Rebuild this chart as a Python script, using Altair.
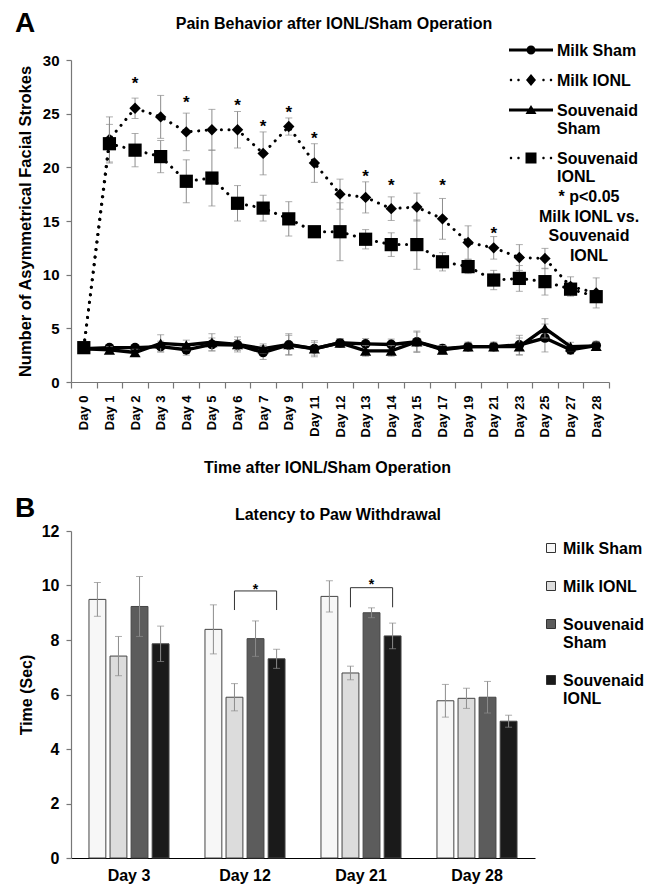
import altair as alt
import pandas as pd

FONT = "Liberation Sans"
GRAY = "#8c8c8c"
AXC = "#777777"

# ---------------- Panel A data ----------------
days = ["Day 0", "Day 1", "Day 2", "Day 3", "Day 4", "Day 5", "Day 6", "Day 7",
        "Day 9", "Day 11", "Day 12", "Day 13", "Day 14", "Day 15", "Day 17",
        "Day 19", "Day 21", "Day 23", "Day 25", "Day 27", "Day 28"]
series = ["Milk Sham", "Milk IONL", "Souvenaid Sham", "Souvenaid IONL"]

milk_sham = [3.1, 3.2, 3.2, 3.3, 3.0, 3.5, 3.45, 2.75, 3.45, 3.1, 3.65, 3.55,
             3.5, 3.75, 3.1, 3.3, 3.3, 3.45, 4.1, 3.0, 3.4]
milk_sham_err = [0.4, 0.3, 0.3, 0.5, 0.5, 0.6, 0.5, 0.65, 0.9, 0.6, 0.4, 0.5,
                 0.5, 1.0, 0.4, 0.4, 0.4, 0.9, 1.3, 0.4, 0.4]
milk_ionl = [3.2, 22.6, 25.5, 24.7, 23.3, 23.5, 23.5, 21.3, 23.8, 20.4, 17.5,
             17.2, 16.15, 16.3, 15.2, 13.0, 12.5, 11.6, 11.5, 8.9, 8.3]
milk_ionl_err = [0.4, 2.1, 0.95, 2.0, 1.75, 1.9, 1.7, 2.0, 0.8, 1.8, 1.4, 1.45,
                 1.1, 1.3, 1.9, 1.55, 1.05, 1.2, 0.95, 0.9, 1.4]
souv_sham = [3.1, 3.0, 2.75, 3.6, 3.45, 3.7, 3.5, 3.1, 3.5, 3.1, 3.65, 2.9,
             2.9, 3.75, 3.0, 3.3, 3.3, 3.3, 5.0, 3.3, 3.35]
souv_sham_err = [0.4, 0.3, 0.3, 0.8, 0.45, 0.8, 0.7, 0.45, 1.0, 0.75, 0.4, 0.5,
                 0.5, 0.9, 0.4, 0.4, 0.4, 0.8, 0.9, 0.4, 0.4]
souv_ionl = [3.2, 22.2, 21.6, 21.0, 18.7, 19.0, 16.65, 16.2, 15.2, 14.0, 14.0,
             13.3, 12.8, 12.8, 11.2, 10.75, 9.5, 9.65, 9.35, 8.65, 7.95]
souv_ionl_err = [0.4, 1.8, 1.55, 1.5, 2.0, 2.6, 1.65, 1.2, 1.6, 0.3, 2.7, 0.9,
                 1.1, 2.3, 0.85, 0.65, 0.9, 1.2, 1.25, 0.5, 0.5]

star_days = ["Day 2", "Day 4", "Day 6", "Day 7", "Day 9", "Day 11", "Day 13",
             "Day 14", "Day 17", "Day 21"]
star_y = [28.0, 26.3, 26.0, 24.0, 25.3, 22.9, 19.4, 18.5, 18.5, 14.1]

title_a = "Pain Behavior after IONL/Sham Operation"
note_lines = ["*  p<0.05", "Milk IONL vs.", "Souvenaid", "IONL"]

# ---------------- Panel B data ----------------
bar_days = ["Day 3", "Day 12", "Day 21", "Day 28"]
b_milk_sham = [9.49, 8.39, 9.6, 5.77]
b_milk_sham_err = [0.62, 0.9, 0.57, 0.6]
b_milk_ionl = [7.41, 5.9, 6.79, 5.86]
b_milk_ionl_err = [0.72, 0.5, 0.25, 0.37]
b_souv_sham = [9.23, 8.05, 9.0, 5.9]
b_souv_sham_err = [1.1, 0.65, 0.18, 0.58]
b_souv_ionl = [7.86, 7.31, 8.15, 5.02]
b_souv_ionl_err = [0.65, 0.35, 0.47, 0.22]

bracket_days = ["Day 12", "Day 21"]
bracket_top = [9.8, 9.92]
bracket_leg = [9.1, 9.2]
bracket_star = [9.94, 10.13]

title_b = "Latency to Paw Withdrawal"

# ---------------- legend symbol paths (unit box, 5 px per unit) ----------------
D = 1.4


def circ(cx, cy, r):
    return (f"M{cx + r},{cy}A{r},{r},0,1,1,{cx - r},{cy}"
            f"A{r},{r},0,1,1,{cx + r},{cy}Z")


solid = f"M-4.4,{D - 0.3}H4.4V{D + 0.3}H-4.4Z"
dots = "".join(circ(x, D, 0.25) for x in (-4.0, -2.5, 2.5, 4.0))
p_circle = solid + circ(0, D, 0.9)
p_diamond = dots + f"M0,{D - 1.2}L1,{D}L0,{D + 1.2}L-1,{D}Z"
p_triangle = solid + f"M0,{D - 1.0}L1.1,{D + 0.8}L-1.1,{D + 0.8}Z"
p_square = dots + f"M-1.1,{D - 1.1}H1.1V{D + 1.1}H-1.1Z"
legend_paths = [p_circle, p_diamond, p_triangle, p_square]

DB = 1.4
p_box = f"M-0.9,{DB - 0.9}H0.9V{DB + 0.9}H-0.9Z"

label_expr = ("indexof(datum.label, 'Souvenaid') == 0 ? "
              "['Souvenaid', substring(datum.label, 10)] : datum.label")


def legend_style(**kw):
    return alt.Legend(orient="none", title=None, symbolOpacity=1,
                      labelBaseline="top", labelExpr=label_expr,
                      labelFontSize=16, labelFontWeight="bold", labelFont=FONT,
                      labelColor="black", labelLimit=200, **kw)


def label_text(text, x, y, size, align="center"):
    return alt.Chart(pd.DataFrame({"t": [text]})).mark_text(
        font=FONT, fontSize=size, fontWeight="bold", align=align,
        baseline="alphabetic", color="black").encode(
        text="t:N", x=alt.value(x), y=alt.value(y))


# ---------------- Panel A chart ----------------
scale_ya = alt.Scale(domain=[0, 30], nice=False)
axis_ya = alt.Axis(values=list(range(0, 31, 5)),
                   title="Number of Asymmetrical Facial Strokes",
                   titlePadding=9, labelPadding=7, tickSize=5, labelFontSize=15,
                   titleFontSize=16.5)
x_a = alt.X("day:N", sort=days,
            scale=alt.Scale(paddingInner=0, paddingOuter=0),
            axis=alt.Axis(title="Time after IONL/Sham Operation", labelAngle=-90,
                          tickBand="extent", tickSize=6, labelPadding=7,
                          labelFontSize=13, titlePadding=23, titleX=256))


def ya(field):
    return alt.Y(field, scale=scale_ya, axis=axis_ya)


marker = {
    "Milk Sham": ("circle", 95),
    "Milk IONL": ("diamond", 130),
    "Souvenaid Sham": ("triangle-up", 125),
    "Souvenaid IONL": ("square", 175),
}

layers_a = []
for name, vals, errs in [("Milk Sham", milk_sham, milk_sham_err),
                         ("Milk IONL", milk_ionl, milk_ionl_err),
                         ("Souvenaid Sham", souv_sham, souv_sham_err),
                         ("Souvenaid IONL", souv_ionl, souv_ionl_err)]:
    d = pd.DataFrame({"day": days, "series": name, "value": vals,
                      "lo": [v - e for v, e in zip(vals, errs)],
                      "hi": [v + e for v, e in zip(vals, errs)]})
    base = alt.Chart(d)
    layers_a.append(base.mark_rule(color=GRAY, strokeWidth=1).encode(
        x=x_a, y=ya("lo:Q"), y2="hi:Q"))
    for f in ("lo:Q", "hi:Q"):
        layers_a.append(base.mark_tick(color=GRAY, thickness=1, size=7).encode(
            x=x_a, y=ya(f)))
    if "Sham" in name:
        ln = base.mark_line(color="black", strokeWidth=3.4)
    else:
        ln = base.mark_line(color="black", strokeWidth=3, strokeDash=[0.1, 7.5],
                            strokeCap="round")
    layers_a.append(ln.encode(x=x_a, y=ya("value:Q")))
    shp, sz = marker[name]
    layers_a.append(base.mark_point(shape=shp, size=sz, filled=True,
                                    color="black", opacity=1).encode(
        x=x_a, y=ya("value:Q")))

stars_a = alt.Chart(pd.DataFrame({"day": star_days, "y": star_y})).mark_text(
    text="*", font=FONT, fontSize=17, fontWeight="bold", color="black",
    baseline="middle", dy=3).encode(x=x_a, y=ya("y:Q"))

legend_a = alt.Chart(pd.DataFrame({"series": series})).transform_filter(
    "false").mark_point(filled=True, color="black", opacity=1).encode(
    shape=alt.Shape("series:N",
                    scale=alt.Scale(domain=series, range=legend_paths),
                    legend=legend_style(legendX=452, legendY=-25,
                                        symbolSize=100, symbolFillColor="black",
                                        symbolStrokeWidth=0, labelOffset=18,
                                        rowPadding=6)))

note_a = alt.Chart(pd.DataFrame({"t": [0]})).mark_text(
    text=note_lines, font=FONT, fontSize=16, fontWeight="bold", align="center",
    baseline="alphabetic", lineHeight=19.5, color="black").encode(
    x=alt.value(518), y=alt.value(142))

top = alt.layer(*layers_a, stars_a, legend_a, note_a,
                label_text("A", -56, -28, 28, align="left"),
                label_text(title_a, 263, -31, 16)).properties(
    width=538, height=322)

# ---------------- Panel B chart ----------------
rows = []
for name, vals, errs in [("Milk Sham", b_milk_sham, b_milk_sham_err),
                         ("Milk IONL", b_milk_ionl, b_milk_ionl_err),
                         ("Souvenaid Sham", b_souv_sham, b_souv_sham_err),
                         ("Souvenaid IONL", b_souv_ionl, b_souv_ionl_err)]:
    for dday, v, e in zip(bar_days, vals, errs):
        rows.append({"day": dday, "grp": name, "value": v,
                     "lo": v - e, "hi": v + e})
df_b = pd.DataFrame(rows)

fills = ["#f7f7f7", "#dcdcdc", "#5c5c5c", "#1a1a1a"]

x_b = alt.X("day:N", sort=bar_days,
            scale=alt.Scale(paddingInner=0.31, paddingOuter=0.155),
            axis=alt.Axis(title=None, ticks=False, labelAngle=0, labelFontSize=16,
                          labelPadding=9, domainColor="black"))
xo_b = alt.XOffset("grp:N", sort=series,
                   scale=alt.Scale(domain=series, paddingInner=0.2,
                                   paddingOuter=0))
scale_yb = alt.Scale(domain=[0, 12], nice=False)
axis_yb = alt.Axis(values=list(range(0, 13, 2)), title="Time (Sec)",
                   titlePadding=7, labelPadding=7, tickSize=5, labelFontSize=16)


def yb(field):
    return alt.Y(field, scale=scale_yb, axis=axis_yb)


bars = alt.Chart(df_b).mark_bar(stroke="#444444", strokeWidth=1).encode(
    x=x_b, xOffset=xo_b, y=yb("value:Q"),
    color=alt.Color("grp:N", scale=alt.Scale(domain=series, range=fills),
                    legend=legend_style(legendX=472, legendY=2,
                                        symbolType=p_box, symbolSize=100,
                                        symbolStrokeColor="#333333",
                                        symbolStrokeWidth=1, labelOffset=4,
                                        rowPadding=14)))
err_b = alt.Chart(df_b).mark_rule(color=GRAY, strokeWidth=1).encode(
    x=x_b, xOffset=xo_b, y=yb("lo:Q"), y2="hi:Q")
caps_b = [alt.Chart(df_b).mark_tick(color=GRAY, thickness=1, size=7).encode(
    x=x_b, xOffset=xo_b, y=yb(f)) for f in ("lo:Q", "hi:Q")]

br_rows = []
for dday, t, lg in zip(bracket_days, bracket_top, bracket_leg):
    br_rows += [{"day": dday, "grp": "Milk IONL", "y": lg, "k": 0},
                {"day": dday, "grp": "Milk IONL", "y": t, "k": 1},
                {"day": dday, "grp": "Souvenaid IONL", "y": t, "k": 2},
                {"day": dday, "grp": "Souvenaid IONL", "y": lg, "k": 3}]
brackets = alt.Chart(pd.DataFrame(br_rows)).mark_line(
    color="#333333", strokeWidth=1).encode(
    x=x_b, xOffset=xo_b, y=yb("y:Q"), detail="day:N", order="k:Q")
stars_b = alt.Chart(pd.DataFrame({"day": bracket_days, "grp": "Souvenaid Sham",
                                  "y": bracket_star})).mark_text(
    text="*", font=FONT, fontSize=14, fontWeight="bold", color="black",
    baseline="middle", dy=3).encode(x=x_b, xOffset=xo_b, y=yb("y:Q"))

bottom = alt.layer(bars, err_b, *caps_b, brackets, stars_b,
                   label_text("B", -56, -14, 28, align="left"),
                   label_text(title_b, 267, -11, 16)).properties(
    width=464, height=327)

chart = alt.vconcat(top, bottom, spacing=19).resolve_scale(
    shape="independent", color="independent"
).resolve_legend(
    shape="independent", color="independent"
).properties(
    padding={"left": 15, "top": 10, "right": 5, "bottom": 5}
).configure_view(stroke=None).configure_axis(
    labelFont=FONT, titleFont=FONT, labelFontWeight="bold",
    titleFontWeight="bold", labelColor="black", titleColor="black",
    domainColor=AXC, tickColor=AXC, grid=False, titleFontSize=16,
    domainWidth=1.2, tickWidth=1.2
)

chart.save("out.html", embed_options={"renderer": "svg", "actions": False})
